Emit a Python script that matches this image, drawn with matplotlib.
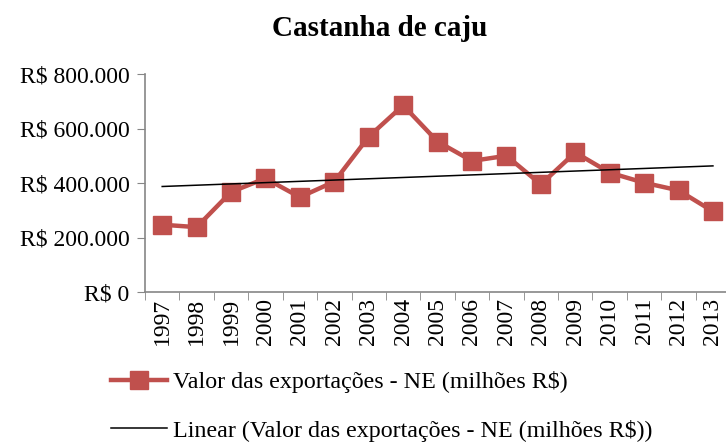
import matplotlib.pyplot as plt
import numpy as np

plt.rcParams['font.family'] = ['Liberation Serif', 'DejaVu Serif']

anos = ['1997', '1998', '1999', '2000', '2001', '2002', '2003', '2004', '2005',
        '2006', '2007', '2008', '2009', '2010', '2011', '2012', '2013']
valores = [247000, 238000, 367000, 417000, 348000, 405000, 570000, 685000, 552000,
           481000, 500000, 395000, 512000, 438000, 401000, 373000, 296000]
yticks = [0, 200000, 400000, 600000, 800000]

def fmt_real(v):
    return 'R$ ' + f'{int(v):,}'.replace(',', '.')

fig = plt.figure(figsize=(7.26, 4.45), dpi=100)
ax = fig.add_axes([0.1997, 0.3438, 0.806, 0.4899])

x = np.arange(len(anos))
linha, = ax.plot(x, valores, color='#c0504d', lw=3.2, marker='s', ms=12.5,
                 label='Valor das exportações - NE (milhões R$)')

# linha de tendência
coef = np.polyfit(x, valores, 1)
tend, = ax.plot(x, np.polyval(coef, x), color='black', lw=1.1,
                label='Linear (Valor das exportações - NE (milhões R$))')

ax.set_xlim(-0.5, len(anos) - 0.5)
ax.set_ylim(0, 800000)
ax.set_yticks(yticks)
ax.set_yticklabels([fmt_real(v) for v in yticks])
ax.set_xticks(x)
ax.set_xticklabels(anos, rotation=90)
ax.set_xticks(np.arange(-0.5, len(anos), 1), minor=True)
ax.tick_params(axis='x', which='major', length=0, labelsize=17, pad=4)
ax.tick_params(axis='x', which='minor', length=6, color='#868686')
ax.tick_params(axis='y', length=6, color='#868686', labelsize=17, pad=5)

for s in ['top', 'right']:
    ax.spines[s].set_visible(False)
for s in ['left', 'bottom']:
    ax.spines[s].set_color('#868686')
    ax.spines[s].set_linewidth(1.2)

fig.text(0.523, 0.937, 'Castanha de caju', ha='center', va='center',
         fontsize=21, fontweight='bold')

fig.legend(handles=[linha, tend], loc='upper left', bbox_to_anchor=(0.14, 0.187),
           frameon=False, fontsize=17.3, handlelength=2.3, handletextpad=0.25,
           labelspacing=1.1, borderaxespad=0)

fig.savefig('out.png', dpi=100)
